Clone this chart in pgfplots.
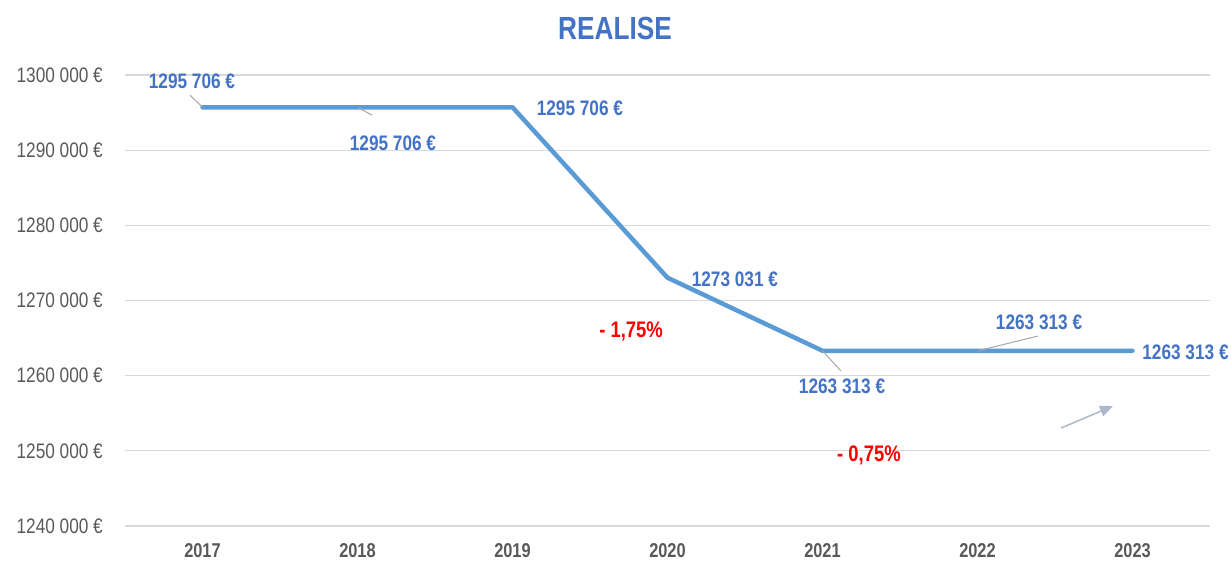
\documentclass[border=0pt]{standalone}
\usepackage{fontspec}
\setmainfont{Liberation Sans}[FakeStretch=0.82]
\usepackage{pgfplots}
\pgfplotsset{compat=1.18}
\usetikzlibrary{arrows.meta}
\definecolor{lineblue}{HTML}{5B9BD5}
\definecolor{labelblue}{HTML}{4472C4}
\definecolor{ticktext}{HTML}{595959}
\definecolor{gridgray}{HTML}{D9D9D9}
\definecolor{arrowgray}{HTML}{ADB9CA}
\definecolor{leadgray}{HTML}{A6A6A6}
\begin{document}
\begin{tikzpicture}[x=1pt,y=1pt]
\useasboundingbox (0,0) rectangle (1231,561);
\begin{axis}[
  at={(125pt,35pt)}, anchor=south west,
  scale only axis, width=1085pt, height=451pt,
  xmin=-0.5, xmax=6.5, ymin=1240000, ymax=1300000,
  scaled y ticks=false,
  xtick={0,1,2,3,4,5,6},
  xticklabels={2017,2018,2019,2020,2021,2022,2023},
  ytick={1240000,1250000,1260000,1270000,1280000,1290000,1300000},
  yticklabels={1240 000 €,1250 000 €,1260 000 €,1270 000 €,1280 000 €,1290 000 €,1300 000 €},
  axis line style={draw=none},
  major tick length=0pt,
  ymajorgrids, grid style={draw=gridgray, line width=1.3pt},
  xticklabel style={anchor=center, yshift=-25pt, font=\fontsize{20}{24}\selectfont\bfseries, text=ticktext},
  yticklabel style={anchor=east, inner sep=0pt, xshift=-22pt, font=\fontsize{21}{25}\selectfont, text=ticktext},
  clip=false,
]
\addplot[color=lineblue, line width=4.5pt, line cap=round, line join=round] coordinates {
  (0,1295706) (1,1295706) (2,1295706) (3,1273031) (4,1263313) (5,1263313) (6,1263313)
};
% leader lines
\draw[leadgray, line width=1pt] (axis cs:-0.081,1297323) -- (axis cs:0,1295706);
\draw[leadgray, line width=1pt] (axis cs:1,1295706) -- (axis cs:1.094,1294663);
\draw[leadgray, line width=1pt] (axis cs:4,1263313) -- (axis cs:4.119,1260615);
\draw[leadgray, line width=1pt] (axis cs:5.003,1263313) -- (axis cs:5.39,1265270);
% data labels
\begin{scope}[every node/.style={font=\fontsize{21}{25}\selectfont\bfseries, text=labelblue, inner sep=0pt}]
\node at (axis cs:-0.068,1299185) {1295 706 €};
\node at (axis cs:1.229,1290939) {1295 706 €};
\node at (axis cs:2.435,1295594) {1295 706 €};
\node at (axis cs:3.435,1272851) {1273 031 €};
\node at (axis cs:4.126,1258620) {1263 313 €};
\node at (axis cs:5.397,1267132) {1263 313 €};
\node at (axis cs:6.342,1263142) {1263 313 €};
\end{scope}
\node[font=\fontsize{22.5}{26}\selectfont\bfseries, text=red, inner sep=0pt] at (axis cs:2.765,1265935) {- 1,75\%};
\node[font=\fontsize{22.5}{26}\selectfont\bfseries, text=red, inner sep=0pt] at (axis cs:4.3,1249443) {- 0,75\%};
\draw[arrowgray, line width=1.5pt, -{Triangle[length=13pt,width=11pt]}] (axis cs:5.539,1253034) -- (axis cs:5.874,1255960);
\node[font=\fontsize{32}{36}\selectfont\bfseries, text=labelblue, inner sep=0pt] at (rel axis cs:0.4516,1.104) {REALISE};
\end{axis}
\end{tikzpicture}
\end{document}
